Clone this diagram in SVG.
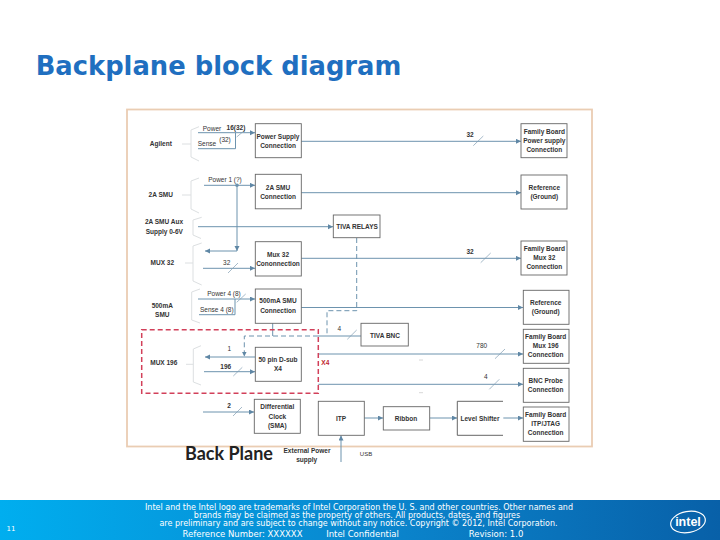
<svg xmlns="http://www.w3.org/2000/svg" width="720" height="540" viewBox="0 0 720 540">
<defs>
<linearGradient id="bar" x1="0" y1="0" x2="1" y2="0"><stop offset="0" stop-color="#00aeef"/><stop offset="0.55" stop-color="#0a84cc"/><stop offset="1" stop-color="#0860a8"/></linearGradient>
<marker id="a" markerWidth="6" markerHeight="6" refX="5" refY="2.5" orient="auto" markerUnits="userSpaceOnUse"><path d="M0,0L5,2.500L0,5Z" fill="#5f87a5"/></marker>
</defs>
<style>
text{font-family:"Liberation Sans",Arial,sans-serif;fill:#333;text-anchor:middle;font-size:6.500px}
.b{fill:#fff;stroke:#666;stroke-width:.9}
.c{fill:none;stroke:#6d93ae;stroke-width:1}
.ar{marker-end:url(#a)}
.t{stroke:#7f9cb2;stroke-width:.7;fill:none}
.br{fill:none;stroke:#dcdfe1;stroke-width:1}
.d{fill:none;stroke:#6d93ae;stroke-width:1;stroke-dasharray:5 3}
.f{font-family:"DejaVu Sans",sans-serif;fill:#fff;font-size:8px}
.bd{font-weight:bold}
</style>
<rect width="720" height="540" fill="#fff"/>
<text x="218.500" y="75" style="font-family:'DejaVu Sans',sans-serif;font-weight:bold;font-size:25.800px;fill:#1f6fc0">Backplane block diagram</text>
<rect x="127" y="109.500" width="465" height="337" fill="#fff" stroke="#eacdb3" stroke-width="1.800"/>
<g id="connectors">
<path class="c ar" d="M198,132.700H255"/><path class="c" d="M198,148.700H235.500V132.700"/>
<path class="c ar" d="M204,185.300H255"/>
<circle cx="237" cy="185.300" r="1.800" fill="#6d93ae"/>
<path class="c ar" d="M237,185.300V251"/><path class="c ar" d="M237,251H205"/>
<path class="c ar" d="M198,226.700H333"/>
<path class="c ar" d="M203,268.300H255"/>
<path class="c ar" d="M301,141.300H521"/><path class="c ar" d="M301,192.700H521"/><path class="c ar" d="M301,258.300H521"/>
<path class="c ar" d="M198,299H255"/><path class="c" d="M199,314.700H235V299"/>
<path class="c ar" d="M301,307.500H523"/>
<path class="d" d="M356.700,238V310.700H327V336"/>
<path class="c" d="M272.700,323V336"/>
<path class="d ar" d="M318,336H244.300V356.500"/>
<path class="c" d="M318,336H361"/>
<path class="c ar" d="M255,357H205"/><path class="c ar" d="M204,371.700H255"/>
<path class="c ar" d="M318.300,354H523"/>
<path class="c ar" d="M318.300,384.300H523"/>
<path class="c ar" d="M203,412H254"/>
<path class="c ar" d="M364,418H383"/><path class="c ar" d="M430,418H457"/><path class="c ar" d="M503,418H523"/>
<path class="c ar" d="M341,462V435.500"/>
<path class="t" d="M236.700,137L245,130M473.300,145.700L483.300,136M480.700,262.700L490.700,253M228,273L238,263M236.700,302.300L245.700,294M233.300,376L242.300,367.300M233,416L242,407M347.300,339.300L356.700,330M495,358.700L505,349M489.300,389.300L499.300,379.300"/>
<path d="M419,360H423M419,392.700H423" stroke="#d8d8d8" stroke-width="1" fill="none"/>
</g>
<g id="brackets">
<path class="br" d="M199,126.700L191,130V157L199,161M182,144H191"/>
<path class="br" d="M199,178L191,181V209L199,213M182,195H191"/>
<path class="br" d="M201.700,217.300L193,220V235L201,238.500"/>
<path class="br" d="M201.700,243L193,246V281L201.700,285M185,263H193"/>
<path class="br" d="M200,289L191.700,292V320L200,323"/>
<path class="br" d="M201,345.700L193.300,349V382L201,385M186,364.300H193.300"/>
</g>
<g id="labels">
<text x="160.800" y="145.700" class="bd">Agilent</text><text x="212" y="131">Power</text><text x="236" y="130" class="bd" font-size="6">16(32)</text><text x="225" y="141.700">(32)</text><text x="207" y="145.700">Sense</text>
<text x="160.700" y="197" class="bd">2A SMU</text><text x="225" y="182">Power  1 (?)</text>
<text x="164" y="224.300" class="bd">2A SMU Aux</text><text x="164.300" y="234.300" class="bd">Supply 0-6V</text>
<text x="162.300" y="265" class="bd">MUX 32</text><text x="226.700" y="265">32</text>
<text x="162.300" y="308" class="bd">500mA</text><text x="162.300" y="316.700" class="bd">SMU</text>
<text x="224" y="295.700">Power  4 (8)</text><text x="216.800" y="311.700">Sense 4 (8)</text>
<text x="163.800" y="365" class="bd">MUX 196</text><text x="229.300" y="350.700">1</text><text x="225.700" y="369.300" class="bd">196</text>
<text x="229" y="407.700" class="bd">2</text>
<text x="339.300" y="330.700">4</text><text x="481.700" y="348">780</text><text x="485.700" y="379.300">4</text>
<text x="470" y="137.300" class="bd">32</text><text x="470" y="254" class="bd">32</text>
<text x="325.300" y="365.300" style="fill:#c0272d;font-weight:bold">X4</text>
<text x="229" y="460" style="font-family:Lato,sans-serif;font-size:18px;font-weight:bold;fill:#222">Back Plane</text>
<text x="307" y="452.700" class="bd">External Power</text><text x="306.700" y="461.700" class="bd">supply</text>
<text x="366" y="455.700" style="font-size:6px">USB</text>
</g>
<g id="n1"><rect class="b" x="255.300" y="123.700" width="46" height="34"/><text x="278" y="139" class="bd">Power Supply</text><text x="278" y="148" class="bd">Connection</text></g>
<g id="n2"><rect class="b" x="255.300" y="174.300" width="46" height="34.500"/><text x="278" y="189.500" class="bd">2A SMU</text><text x="278" y="199" class="bd">Connection</text></g>
<g id="n3"><rect class="b" x="333.300" y="215" width="46.700" height="22.700"/><text x="357" y="229" class="bd">TIVA RELAYS</text></g>
<g id="n4"><rect class="b" x="255.300" y="241.700" width="46" height="34.300"/><text x="278" y="256.500" class="bd">Mux 32</text><text x="278" y="266" class="bd">Cononnection</text></g>
<g id="n5"><rect class="b" x="521" y="123.700" width="46" height="34"/><text x="544.300" y="134" class="bd">Family Board</text><text x="544.300" y="143" class="bd">Power supply</text><text x="544.300" y="152.300" class="bd">Connection</text></g>
<g id="n6"><rect class="b" x="521" y="175" width="46" height="34"/><text x="544.300" y="190" class="bd">Reference</text><text x="544.300" y="199.300" class="bd">(Ground)</text></g>
<g id="n7"><rect class="b" x="521" y="241" width="46" height="34"/><text x="544.300" y="251" class="bd">Family Board</text><text x="544.300" y="260.300" class="bd">Mux 32</text><text x="544.300" y="269.300" class="bd">Connection</text></g>
<g id="n8"><rect class="b" x="255.300" y="289" width="46" height="34.300"/><text x="278" y="303.300" class="bd">500mA SMU</text><text x="278" y="312.600" class="bd">Connection</text></g>
<g id="n9"><rect class="b" x="255.300" y="347.300" width="46" height="34"/><text x="278" y="361.600" class="bd">50 pin D-sub</text><text x="278" y="370.600" class="bd">X4</text></g>
<g id="n10"><rect class="b" x="254.300" y="399.300" width="46" height="34"/><text x="277.300" y="409.300" class="bd">Differential</text><text x="277.300" y="418.600" class="bd">Clock</text><text x="277.300" y="428" class="bd">(SMA)</text></g>
<g id="n11"><rect class="b" x="318.300" y="401.300" width="46" height="34"/><text x="341" y="420.700" class="bd">ITP</text></g>
<g id="n12"><rect class="b" x="523.300" y="290.300" width="45.700" height="34"/><text x="545.700" y="305" class="bd">Reference</text><text x="545.700" y="314" class="bd">(Ground)</text></g>
<g id="n13"><rect class="b" x="361" y="323.300" width="47.300" height="22.700"/><text x="385" y="338" class="bd">TIVA BNC</text></g>
<g id="n14"><rect class="b" x="523.300" y="329.300" width="45.700" height="34"/><text x="545.700" y="339" class="bd">Family Board</text><text x="545.700" y="347.700" class="bd">Mux 196</text><text x="545.700" y="357" class="bd">Connection</text></g>
<g id="n15"><rect class="b" x="523.300" y="368.300" width="45.700" height="34"/><text x="545.700" y="383.300" class="bd">BNC Probe</text><text x="545.700" y="392.300" class="bd">Connection</text></g>
<g id="n16"><rect class="b" x="523.300" y="407" width="45.700" height="34.300"/><text x="545.700" y="417.300" class="bd">Family Board</text><text x="545.700" y="426.300" class="bd">ITP/JTAG</text><text x="545.700" y="435.300" class="bd">Connection</text></g>
<g id="n17"><rect class="b" x="383.300" y="406.700" width="46.400" height="23.300"/><text x="406" y="420.500" class="bd">Ribbon</text></g>
<g id="n18"><rect x="457.300" y="401.300" width="46" height="34" fill="#fff"/><path d="M503,401.300H457.300V435.300H503" fill="none" stroke="#555" stroke-width=".9"/><text x="480" y="420.700" class="bd">Level Shifter</text></g>
<rect x="141.700" y="329.700" width="176.600" height="63.600" fill="none" stroke="#d2405a" stroke-width="1.500" stroke-dasharray="5 3"/>
<g id="footer">
<rect y="500" width="720" height="40" fill="url(#bar)"/>
<text class="f" x="359" y="510">Intel and the Intel logo are trademarks of Intel Corporation the U. S. and other countries.  Other names and</text>
<text class="f" x="357" y="518">brands may be claimed as the property of others.  All products, dates, and figures</text>
<text class="f" x="358.500" y="526">are preliminary and are subject to change without any notice.  Copyright © 2012, Intel Corporation.</text>
<text class="f" x="242.500" y="537" style="font-size:8.500px">Reference Number: XXXXXX</text><text class="f" x="362.500" y="537" style="font-size:8.500px">Intel Confidential</text><text class="f" x="496" y="537" style="font-size:8.500px">Revision: 1.0</text>
<text class="f" x="11" y="531" style="font-size:7px">11</text>
<ellipse cx="688" cy="522" rx="17.500" ry="10.500" fill="none" stroke="#fff" stroke-width="1.200" transform="rotate(-10 688 522)"/>
<text x="688" y="526" style="font-family:'Liberation Sans',sans-serif;font-size:12.500px;font-weight:bold;fill:#fff">intel</text>
</g>
</svg>
